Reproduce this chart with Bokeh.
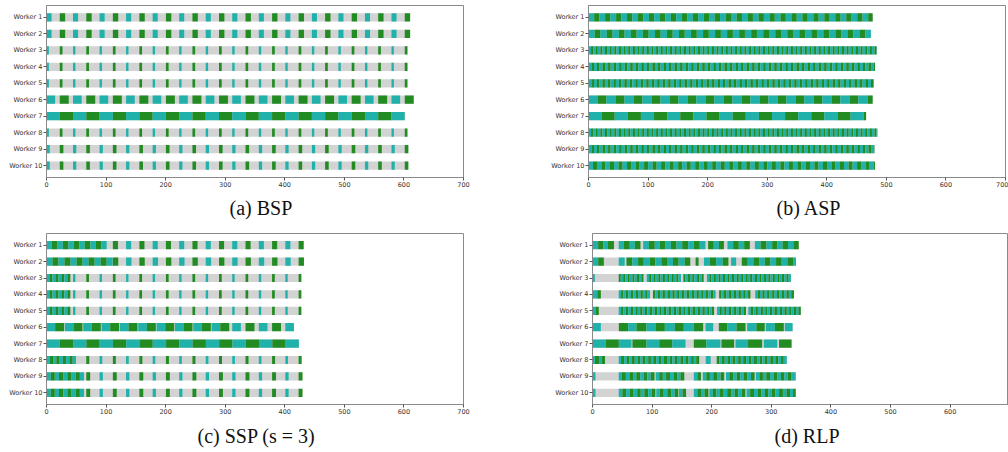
from bokeh.plotting import figure
from bokeh.layouts import column, row
from bokeh.models import ColumnDataSource, Range1d, FixedTicker, Title
from bokeh.embed import file_html
from bokeh.resources import INLINE

WORKERS = ["Worker 1", "Worker 2", "Worker 3", "Worker 4", "Worker 5",
           "Worker 6", "Worker 7", "Worker 8", "Worker 9", "Worker 10"]
X_TICKS = [0, 100, 200, 300, 400, 500, 600, 700]
CAPTIONS = ["(a) BSP", "(b) ASP", "(c) SSP (s = 3)", "(d) RLP"]
COMPUTE_COLOR = "#20b2aa"
COMM_COLOR = "#228b22"
WAIT_COLOR = "#d3d3d3"

# phase start times dictated by the straggler (Worker 7): even = compute, odd = communication
SLOT_STARTS = [0, 22.3, 44.5, 66.8, 89.1, 111.4, 133.6, 155.9, 178.2, 200.5,
               222.7, 245.0, 267.3, 289.6, 311.8, 334.1, 356.4, 378.7, 400.9, 423.2,
               445.5, 467.7, 490.0, 512.3, 534.6, 556.8, 579.1, 601.4]

# (a) BSP
BSP_COMPUTE = [8.5, 8.5, 4.0, 4.0, 4.0, 14.5, 22.3, 4.0, 5.5, 5.5]
BSP_COMM = [9.0, 9.0, 4.5, 4.5, 4.5, 15.0, 22.3, 4.5, 6.0, 6.0]
BSP_LAST_SLOT = [27, 27, 27, 27, 27, 27, 26, 27, 27, 27]

# (b) ASP
ASP_COMPUTE = [9.5, 10.5, 4.3, 5.0, 5.0, 16.0, 22.0, 4.3, 5.0, 7.5]
ASP_COMM = [8.9, 9.7, 3.5, 4.3, 4.2, 14.2, 22.0, 3.5, 4.3, 6.8]
ASP_END = [477, 474, 484, 481, 479, 477, 466, 485, 480, 481]

# (c) SSP (s = 3)
SSP_DENSE_N = [11, 11, 8, 8, 8, 19, 0, 9, 9, 9]
SSP_DENSE_COMPUTE = [9.0, 10.0, 5.0, 5.0, 5.0, 14.5, 0.0, 5.5, 7.0, 7.0]
SSP_DENSE_COMM = [9.4, 10.2, 5.0, 5.0, 5.0, 15.0, 0.0, 5.5, 7.0, 7.0]
SSP_DENSE_GAP = [0, 0, 0, 0, 0, 1.3, 0, 0, 0, 0]
SSP_FIRST_SLOT = [5, 5, 2, 2, 2, 13, 0, 3, 3, 3]
SSP_LAST_SLOT = [19, 19, 19, 19, 19, 18, 18, 19, 19, 19]
SSP_SYNC_COMPUTE = [8.5, 9.0, 4.0, 4.0, 4.0, 14.5, 22.3, 4.5, 5.5, 5.5]
SSP_SYNC_COMM = [8.5, 9.0, 4.5, 4.5, 4.5, 15.0, 22.3, 5.0, 6.5, 6.5]

# (d) RLP: c = compute, m = communication, w = wait (durations)
RLP_W1 = ("c9.5 m8.5 c8 m10 w8 c8.5 m10 c8.5 m9.5 w4.5 c9.5 m10 c8.5 m9.5 c9 m9.5 c9.5 m10 "
          "c9.5 m10 c9.5 w4.5 m9.5 c8.5 m8.5 w6 c9.5 m9.5 c9 m9.5 w8.5 c9.5 m10 c9.5 m8.5 c9 m9 c9 m9")
RLP_W2 = ("c9.5 m9.5 w25 c10 w3 m10 c9.5 m9.5 c10 m9.5 c10 m9.5 c10 m9.5 c10 m9.5 w9 m5 w9 "
          "c9.5 m11 c11 m9.5 w4.5 c8.5 w9.5 m10 c9.5 m9.5 c9.5 m9.5 c9.5 m9.5 c9.5 m9.5 c5")
RLP_W3 = ("c4 w40 m3.5 c4 m3.5 c4 m3.5 c4.5 m3.5 c4 m3.5 c4 m3.5 w5.5 c4 m3.5 c4 m3.5 c4.5 m3.5 "
          "c4 m3.5 c4 m3.5 c4 m3.5 c4 m3.5 c4.5 w4 m3.5 c4 m3.5 c4 m3.5 c4.5 m3.5 c4 m3.5 w5.5 "
          "c4 m3.5 c4 m3.5 c4.5 m3.5 c4 m3.5 c4 m3.5 c4 m3.5 c4.5 m3.5 c4 m3.5 c4 m3.5 c4 m3.5 "
          "c4.5 m3.5 c4 m3.5 c4 m3.5 c4 m3.5 c4 m3.5 c4.5 m3.5 c4 m3.5 c4 m3.5 c4")
RLP_W4 = ("c8 m6 w30 c4 m4 c4 m4 c4.5 m4 c4 m4 c4 m4 c4 m4 c4 w5 m4 c4 m4 c4 m4 c4.5 m4 c4 "
          "m4 c4 m4 c4 m4 c4 m4 c4.5 m4 c4 m4 c4 m4 c4 m4 c4 m4 c4 w6 m4 c4 m4 c4 m4 c4.5 m4 "
          "c4 m4 c4 m4 c4 m4 w8 c4 m4 c4 m4 c4 m4 c4.5 m4 c4 m4 c4 m4 c4 m4 c4 m4.5")
RLP_W5 = ("c5 m5.5 w33.5 c4 m4 c4 m4 c4.5 m4 c4 m3.5 c4 m4 c4 m4 c4.5 m4 c4 m4 c4 m3.5 c4 m4 "
          "c4 m4 c4.5 m4 c4 m4 c4 m3.5 c4 m4 c4 m4 c4.5 m4 c4 m4 c4 m3.5 c4 m4 w5 c4 m4 c4 m4 "
          "c4 m4 c4.5 m4 c4 m4 c4 m4 w4 c4 m4 c4 m4 c4.5 m4 c4 m3.5 c4 m4 c4 m4 c4.5 m4 c4 m4 "
          "c4 m3.5 c4 m4 c4 m4")
RLP_W6 = ("c14 w30.2 m15.8 c13.8 m16.8 c15.1 m15.7 c16.6 m15.2 c16.8 m15.7 w3.9 c12.9 w9.5 "
          "m14 c15.6 m15.1 w2.8 c15.5 m14 w1.8 c15.2 m15 w1.7 c13")
RLP_W7 = ("c22 m22.2 c21.2 w1.6 m23.6 c21.4 m21.7 c22.3 w14 m21 c23.7 w1.7 m21.3 w2.3 c21 "
          "m23.7 w2.8 c22.5 w3 m21")
RLP_W8 = ("c4 m8 c3 m6 w23 c4 m5 c4.5 m4.5 c4 m5 c4.5 m4.5 c4 m5 c4.5 m4.5 c4 m5 c4.5 m4.5 "
          "c4 m5 c4.5 m4.5 c4 m5 c4.5 m4.5 c4 m5 c4.5 m4.5 c4 m5 w11 c8.4 w10 m4.5 c4 m5 c4.5 "
          "m4.5 c4 m5 c4.5 m4.5 c4 m5 c4.5 m4.5 c4 m5 c4.5 m4.5 c4 m5 c4.5 m4.5 c4 m5 c4.5 m4.5 c5")
RLP_W9 = ("c5 w39 c5.5 m6.5 c6 m6 c5.5 m6.5 c6 m6 c5.5 m6.5 w2 c6 m6 c5.5 m6.5 c6 m6 c5.5 m6.5 "
          "w16 c6 m6 w3 c6 m6 c5.5 m6.5 c6 m6 w3 c5.5 m6.5 c6 m6 c5.5 m6.5 c6 m6 w2 c6 m6 "
          "c5.5 m6.5 c6 m6 c6 m6 c5.5 m6.5 c7")
RLP_W10 = ("c5 w39 c6 m6.5 c6 m6.5 c6 m6 c6 m6.5 c6 m6 w1.5 c6 m6.5 c6 m6.5 c6 m6 w1 c6 m6 "
           "w13 c6 m6 c6 m6.5 w1.5 c6 m6 c6 m6 c6 m6.5 c6 m6 c6 m6 w2 c6 m6.5 c6 m6 c6 m6 "
           "c6 m6 c6 m6.5 c6 m6 c5 m4.5")
RLP_WORKERS = [RLP_W1, RLP_W2, RLP_W3, RLP_W4, RLP_W5, RLP_W6, RLP_W7, RLP_W8, RLP_W9, RLP_W10]


def bsp_segments():
    out = []
    for w in range(10):
        segs = []
        for j in range(BSP_LAST_SLOT[w] + 1):
            s = SLOT_STARTS[j]
            if j % 2 == 0:
                segs.append((s, s + BSP_COMPUTE[w], "c"))
            else:
                segs.append((s, s + BSP_COMM[w], "m"))
        out.append(segs)
    return out


def asp_segments():
    out = []
    for w in range(10):
        segs, t, k = [], 0.0, 0
        while t < ASP_END[w] - 0.01:
            d = ASP_COMPUTE[w] if k % 2 == 0 else ASP_COMM[w]
            segs.append((t, min(t + d, ASP_END[w]), "c" if k % 2 == 0 else "m"))
            t += d
            k += 1
        out.append(segs)
    return out


def ssp_segments():
    out = []
    for w in range(10):
        segs, t = [], 0.0
        for k in range(SSP_DENSE_N[w]):
            if k % 2 == 0:
                segs.append((t, t + SSP_DENSE_COMPUTE[w], "c"))
                t += SSP_DENSE_COMPUTE[w]
            else:
                segs.append((t, t + SSP_DENSE_COMM[w], "m"))
                t += SSP_DENSE_COMM[w] + SSP_DENSE_GAP[w]
        for j in range(SSP_FIRST_SLOT[w], SSP_LAST_SLOT[w] + 1):
            s = max(SLOT_STARTS[j], t)
            d = SSP_SYNC_COMPUTE[w] if j % 2 == 0 else SSP_SYNC_COMM[w]
            segs.append((s, s + d, "c" if j % 2 == 0 else "m"))
            t = s + d
        out.append(segs)
    return out


def rlp_segments():
    out = []
    for spec in RLP_WORKERS:
        segs, t = [], 0.0
        for tok in spec.split():
            kind, d = tok[0], float(tok[1:])
            if kind != "w":
                segs.append((t, t + d, kind))
            t += d
        out.append(segs)
    return out


def make_panel(all_segs, caption, width, height, bl, br, bt, bb, xmax,
               cap_offset, cap_standoff):
    bg = dict(y=[], left=[], right=[])
    fg = dict(y=[], left=[], right=[], color=[])
    for w, segs in enumerate(all_segs):
        end = max(s[1] for s in segs)
        bg["y"].append(w + 1)
        bg["left"].append(0)
        bg["right"].append(end)
        for (a, b, kind) in segs:
            fg["y"].append(w + 1)
            fg["left"].append(a)
            fg["right"].append(b)
            fg["color"].append(COMPUTE_COLOR if kind == "c" else COMM_COLOR)
    p = figure(width=width, height=height, x_range=Range1d(0, xmax),
               y_range=Range1d(10.715, 0.285), output_backend="svg",
               toolbar_location=None, min_border_left=bl, min_border_right=br,
               min_border_top=bt, min_border_bottom=bb)
    p.hbar(y="y", left="left", right="right", height=0.5, source=ColumnDataSource(bg),
           fill_color=WAIT_COLOR, line_color=None)
    p.hbar(y="y", left="left", right="right", height=0.5, source=ColumnDataSource(fg),
           fill_color="color", line_color=None)
    p.xgrid.visible = False
    p.ygrid.visible = False
    p.background_fill_color = "white"
    p.border_fill_color = "white"
    p.outline_line_color = "#8a8a8a"
    p.outline_line_width = 1
    p.xaxis.ticker = FixedTicker(ticks=X_TICKS)
    p.yaxis.ticker = FixedTicker(ticks=list(range(1, 11)))
    p.yaxis.major_label_overrides = {i + 1: name for i, name in enumerate(WORKERS)}
    for ax in (p.xaxis[0], p.yaxis[0]):
        ax.axis_line_color = "#8a8a8a"
        ax.major_tick_line_color = "#555555"
        ax.major_tick_out = 3
        ax.major_tick_in = 0
        ax.minor_tick_line_color = None
        ax.major_label_standoff = 1
        ax.major_label_text_font = "DejaVu Sans"
        ax.major_label_text_font_size = "6.5px"
        ax.major_label_text_color = "#333333"
    cap = Title(text=caption, align="left", offset=cap_offset, standoff=cap_standoff,
                text_font="Liberation Serif", text_font_style="normal",
                text_font_size="20px", text_color="#111111")
    p.add_layout(cap, "below")
    return p


# Bokeh's page template has no body margin: the layout starts at the window's corner
pa = make_panel(bsp_segments(), CAPTIONS[0], 548, 228, 46, 85, 5, 51, 700, 183, 10)
pb = make_panel(asp_segments(), CAPTIONS[1], 460, 228, 40, 3, 5, 51, 700, 188, 10)
pc = make_panel(ssp_segments(), CAPTIONS[2], 552, 224, 46, 89, 5, 47, 700, 151, 12)
pd = make_panel(rlp_segments(), CAPTIONS[3], 456, 224, 40, 0, 5, 47, 698, 182, 12)

root = column(row(pa, pb), row(pc, pd))

with open("out.html", "w") as f:
    f.write(file_html(root, INLINE))
